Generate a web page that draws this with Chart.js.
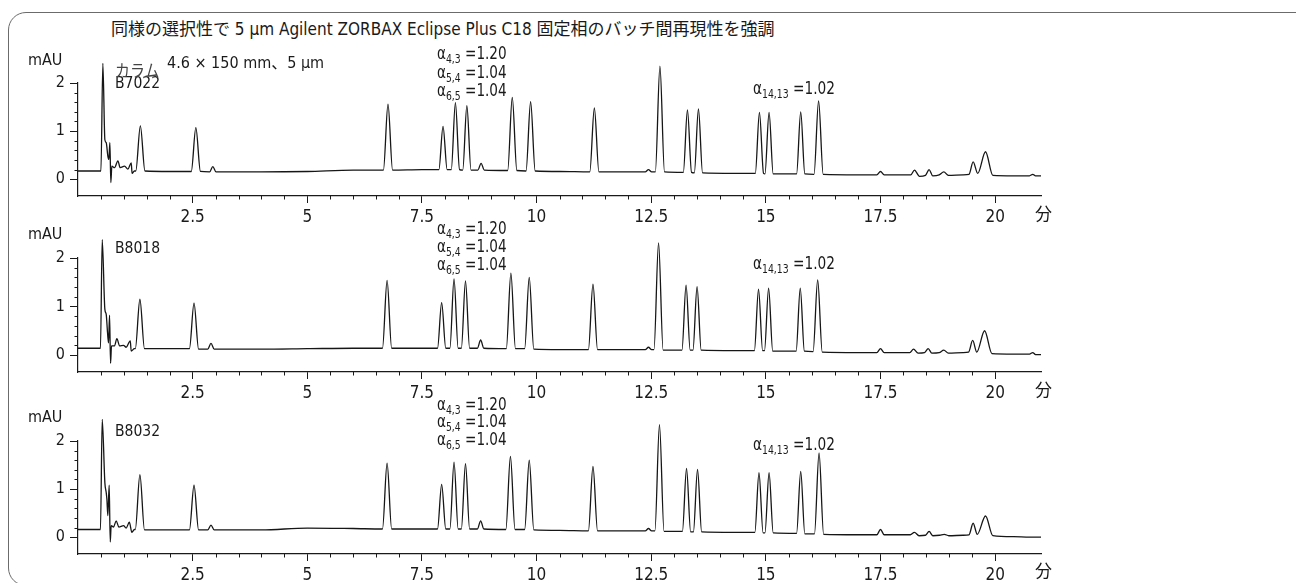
<!DOCTYPE html>
<html>
<head>
<meta charset="utf-8">
<script src="https://cdn.jsdelivr.net/npm/chart.js@4.4.1/dist/chart.umd.min.js"></script>
<style>
  html, body { margin: 0; padding: 0; background: #fff; }
  body {
    width: 1296px; height: 583px; position: relative; overflow: hidden;
    font-family: "Liberation Sans Narrow", "DejaVu Sans Condensed", "Noto Sans CJK JP", sans-serif;
    color: #1a1a1a;
  }
  .frame {
    position: absolute; left: 8px; top: 12px; width: 1400px; height: 574px;
    border: 1.5px solid #6b6b6b; border-radius: 18px; box-sizing: border-box;
  }
  .panel { position: absolute; left: 0; width: 1296px; }
  .panel canvas { display: block; }
  .t { position: absolute; white-space: nowrap; line-height: 1; transform-origin: 0 0; }
  sub { font-size: 0.68em; vertical-align: -0.3em; line-height: 0; }
</style>
</head>
<body>
<div class="frame"></div>

<div class="t" style="left:111px;top:21px;font-size:17px;">同様の選択性で 5 µm Agilent ZORBAX Eclipse Plus C18 固定相のバッチ間再現性を強調</div>

<div id="panels"></div>

<script>
// Retention time axis (min) and absorbance axis (mAU)
const minuteTicks = [2.5, 5, 7.5, 10, 12.5, 15, 17.5, 20];
const minuteMinorTicks = [0.5, 1, 1.5, 2, 3, 3.5, 4, 4.5, 5.5, 6, 6.5, 7, 8, 8.5, 9, 9.5,
  10.5, 11, 11.5, 12, 13, 13.5, 14, 14.5, 15.5, 16, 16.5, 17, 18, 18.5, 19, 19.5];
const mauTicks = [0, 1, 2];
const mauMinorTicks = [0.2, 0.4, 0.6, 0.8, 1.2, 1.4, 1.6, 1.8];

// Column batches
const batches = ['B7022', 'B8018', 'B8032'];

// Selectivity annotations
const alphaEarly = [['4,3', '1.20'], ['5,4', '1.04'], ['6,5', '1.04']];
const alphaLate = ['14,13', '1.02'];

// Chromatogram traces: [time (min), absorbance (mAU)]
const traceB7022 = [
  [0,0.17],[0.25,0.17],[0.5,0.17],[0.542,2.41],[0.586,0.82],[0.615,0.76],[0.651,0.48],[0.673,0.41],
  [0.695,0.76],[0.716,-0.07],[0.738,0.27],[0.797,0.24],[0.87,0.38],[0.92,0.24],[1.015,0.27],[1.088,0.21],
  [1.16,0.34],[1.18,0.12],[1.23,0.17],
  [1.26,0.17],[1.36,1.11],[1.46,0.17],
  [2.0,0.16],[2.47,0.16],[2.57,1.07],[2.67,0.16],
  [2.87,0.15],[2.94,0.26],[3.01,0.15],
  [4.0,0.15],[5.0,0.16],[6.0,0.19],[6.66,0.19],[6.76,1.56],[6.86,0.19],
  [7.5,0.20],[7.87,0.20],[7.96,1.10],[8.05,0.20],[8.14,0.20],[8.23,1.59],[8.32,0.20],[8.39,0.19],
  [8.48,1.53],[8.57,0.19],[8.72,0.19],[8.79,0.33],[8.86,0.19],
  [9.37,0.18],[9.47,1.70],[9.57,0.18],[9.77,0.17],[9.87,1.61],[9.97,0.17],
  [10.5,0.16],[11.16,0.15],[11.26,1.48],[11.36,0.15],
  [12.0,0.15],[12.37,0.15],[12.44,0.20],[12.51,0.15],[12.59,0.15],[12.69,2.35],[12.79,0.15],
  [13.2,0.14],[13.29,1.44],[13.38,0.14],[13.44,0.13],[13.53,1.46],[13.62,0.13],
  [14.3,0.12],[14.77,0.12],[14.86,1.39],[14.95,0.12],[14.98,0.11],[15.07,1.39],[15.16,0.11],
  [15.67,0.11],[15.76,1.40],[15.85,0.11],[16.05,0.10],[16.15,1.63],[16.25,0.10],
  [17.0,0.09],[17.42,0.09],[17.50,0.16],[17.58,0.09],
  [18.16,0.09],[18.24,0.19],[18.35,0.06],[18.48,0.08],[18.56,0.20],[18.64,0.07],[18.78,0.09],[18.88,0.15],[18.98,0.08],
  [19.3,0.09],[19.43,0.10],[19.52,0.36],[19.62,0.12],[19.79,0.57],[19.95,0.08],
  [20.4,0.07],[20.75,0.07],[20.82,0.10],[20.88,0.07],[21.0,0.07]
];

const traceB8018 = [
  [0,0.14],[0.25,0.14],[0.49,0.14],[0.528,2.38],[0.586,0.94],[0.615,0.84],[0.644,0.46],[0.666,0.25],
  [0.688,0.82],[0.71,-0.17],[0.731,0.19],[0.797,0.19],[0.848,0.34],[0.906,0.19],[0.993,0.20],[1.05,0.16],
  [1.14,0.29],[1.16,0.08],[1.23,0.13],
  [1.25,0.13],[1.35,1.15],[1.45,0.13],
  [2.0,0.13],[2.43,0.13],[2.53,1.07],[2.63,0.12],
  [2.83,0.12],[2.90,0.24],[2.97,0.12],
  [4.0,0.12],[5.0,0.13],[6.0,0.14],[6.64,0.14],[6.74,1.54],[6.84,0.14],
  [7.5,0.14],[7.84,0.14],[7.93,1.08],[8.02,0.14],[8.11,0.14],[8.20,1.57],[8.29,0.14],[8.36,0.14],
  [8.45,1.53],[8.54,0.14],[8.71,0.14],[8.78,0.31],[8.85,0.14],
  [9.34,0.13],[9.44,1.69],[9.54,0.13],[9.74,0.13],[9.84,1.60],[9.94,0.12],
  [10.5,0.11],[11.13,0.11],[11.23,1.46],[11.33,0.11],
  [12.0,0.11],[12.37,0.11],[12.44,0.16],[12.51,0.11],[12.56,0.11],[12.66,2.31],[12.76,0.10],
  [13.17,0.10],[13.26,1.44],[13.35,0.10],[13.41,0.10],[13.50,1.41],[13.59,0.10],
  [14.3,0.09],[14.75,0.09],[14.84,1.36],[14.93,0.09],[14.97,0.09],[15.06,1.38],[15.15,0.08],
  [15.66,0.08],[15.75,1.38],[15.84,0.08],[16.03,0.07],[16.13,1.55],[16.23,0.06],
  [17.0,0.05],[17.42,0.05],[17.50,0.13],[17.58,0.05],
  [18.14,0.05],[18.22,0.12],[18.32,0.04],[18.46,0.05],[18.54,0.13],[18.62,0.04],[18.78,0.05],[18.88,0.10],[18.98,0.04],
  [19.3,0.05],[19.42,0.06],[19.51,0.30],[19.60,0.06],[19.77,0.50],[19.93,0.03],
  [20.4,0.02],[20.75,0.02],[20.82,0.05],[20.88,0.01],[21.0,0.01]
];

const traceB8032 = [
  [0,0.16],[0.25,0.16],[0.49,0.16],[0.528,2.45],[0.586,1.13],[0.615,0.93],[0.63,0.79],[0.651,0.45],
  [0.68,1.08],[0.703,-0.10],[0.724,0.24],[0.775,0.21],[0.833,0.34],[0.89,0.21],[0.993,0.24],[1.05,0.19],
  [1.12,0.31],[1.175,0.10],[1.23,0.16],
  [1.25,0.16],[1.35,1.30],[1.45,0.15],
  [2.0,0.15],[2.43,0.15],[2.53,1.08],[2.63,0.15],
  [2.83,0.15],[2.90,0.25],[2.97,0.15],
  [4.0,0.15],[5.0,0.19],[6.0,0.18],[6.64,0.17],[6.74,1.54],[6.84,0.17],
  [7.5,0.17],[7.84,0.17],[7.93,1.10],[8.02,0.17],[8.11,0.17],[8.20,1.56],[8.29,0.17],[8.36,0.17],
  [8.45,1.53],[8.54,0.17],[8.71,0.17],[8.78,0.34],[8.85,0.17],
  [9.33,0.16],[9.43,1.68],[9.53,0.16],[9.74,0.16],[9.84,1.60],[9.94,0.15],
  [10.5,0.14],[11.13,0.13],[11.23,1.47],[11.33,0.13],
  [12.0,0.13],[12.37,0.13],[12.44,0.18],[12.51,0.13],[12.58,0.13],[12.68,2.34],[12.78,0.12],
  [13.18,0.12],[13.27,1.43],[13.36,0.11],[13.42,0.11],[13.51,1.41],[13.60,0.11],
  [14.3,0.10],[14.76,0.10],[14.85,1.34],[14.94,0.09],[14.98,0.09],[15.07,1.34],[15.16,0.09],
  [15.67,0.08],[15.76,1.37],[15.85,0.07],[16.06,0.07],[16.16,1.75],[16.26,0.06],
  [17.0,0.05],[17.42,0.05],[17.50,0.16],[17.58,0.05],
  [18.15,0.05],[18.24,0.10],[18.34,0.03],[18.48,0.04],[18.56,0.12],[18.64,0.03],[18.79,0.04],[18.89,0.06],[18.99,0.03],
  [19.3,0.04],[19.43,0.05],[19.52,0.29],[19.61,0.06],[19.79,0.44],[19.95,0.03],
  [20.4,0.01],[20.75,0.00],[21.0,0.00]
];

const traces = [traceB7022, traceB8018, traceB8032];

// Panel placement on the page
const layout = [
  { areaTop: 83,  areaBottom: 196, mau: 52,    name: 76,    alpha: [43.5, 62.5, 81],     alpha2: 78.5,  unit: 206 },
  { areaTop: 258, areaBottom: 372, mau: 225.5, name: 240.5, alpha: [218.5, 237, 254.5],  alpha2: 253.5, unit: 382 },
  { areaTop: 441, areaBottom: 554, mau: 409,   name: 424,   alpha: [394.5, 412, 430],    alpha2: 435,   unit: 563 }
];

const PAD_TOP = 40, X_AXIS_H = 32, Y_AXIS_W = 78, X_RIGHT = 1041;
const axisFont = '"Liberation Sans Narrow", "DejaVu Sans Condensed", sans-serif';
const inkColor = '#1a1a1a';

const minorTickPlugin = {
  id: 'minorTicks',
  afterDraw(chart) {
    const { ctx, chartArea, scales: { x, y } } = chart;
    ctx.save();
    ctx.strokeStyle = inkColor;
    ctx.lineWidth = 1;
    ctx.beginPath();
    minuteMinorTicks.forEach(v => {
      const px = Math.round(x.getPixelForValue(v)) + 0.5;
      ctx.moveTo(px, chartArea.bottom);
      ctx.lineTo(px, chartArea.bottom + 3.5);
    });
    mauMinorTicks.forEach(v => {
      const py = Math.round(y.getPixelForValue(v)) + 0.5;
      ctx.moveTo(chartArea.left, py);
      ctx.lineTo(chartArea.left - 3.5, py);
    });
    ctx.stroke();
    ctx.restore();
  }
};

const host = document.getElementById('panels');

function addText(html, left, top, size, extra) {
  const d = document.createElement('div');
  d.className = 't';
  d.style.left = left + 'px';
  d.style.top = top + 'px';
  d.style.fontSize = size + 'px';
  if (extra) Object.assign(d.style, extra);
  d.innerHTML = html;
  document.body.appendChild(d);
  return d;
}

layout.forEach((p, i) => {
  const areaH = p.areaBottom - p.areaTop;
  const h = PAD_TOP + areaH + X_AXIS_H;
  const wrap = document.createElement('div');
  wrap.className = 'panel';
  wrap.style.top = (p.areaTop - PAD_TOP) + 'px';
  wrap.style.height = h + 'px';
  const cv = document.createElement('canvas');
  cv.width = 1296;
  cv.height = h;
  wrap.appendChild(cv);
  host.appendChild(wrap);

  new Chart(cv, {
    type: 'line',
    data: {
      datasets: [{
        label: batches[i],
        data: traces[i].map(([t, v]) => ({ x: t, y: v })),
        borderColor: '#161616',
        borderWidth: 1.3,
        pointRadius: 0,
        fill: false,
        cubicInterpolationMode: 'monotone',
        capBezierPoints: false,
        clip: false
      }]
    },
    options: {
      responsive: false,
      animation: false,
      events: [],
      layout: { padding: { top: PAD_TOP, left: 0, right: 1296 - X_RIGHT, bottom: 0 } },
      plugins: { legend: { display: false }, tooltip: { enabled: false } },
      scales: {
        x: {
          type: 'linear', min: 0, max: 21,
          afterBuildTicks: s => { s.ticks = minuteTicks.map(v => ({ value: v })); },
          afterFit: s => { s.height = X_AXIS_H; },
          ticks: {
            autoSkip: false, maxRotation: 0, padding: 4, color: inkColor,
            font: { family: axisFont, size: 17 },
            callback: v => String(v)
          },
          grid: { drawOnChartArea: false, tickLength: 7, color: inkColor, tickWidth: 1 },
          border: { display: true, color: inkColor, width: 1.2 }
        },
        y: {
          type: 'linear', min: -0.35, max: 2,
          afterBuildTicks: s => { s.ticks = mauTicks.map(v => ({ value: v })); },
          afterFit: s => { s.width = Y_AXIS_W; },
          ticks: {
            padding: 5, color: inkColor,
            font: { family: axisFont, size: 16 },
            callback: v => String(v)
          },
          grid: { drawOnChartArea: false, tickLength: 8, color: inkColor, tickWidth: 1 },
          border: { display: true, color: inkColor, width: 1.2 }
        }
      }
    },
    plugins: [minorTickPlugin]
  });

  // Axis units, batch label and selectivity notes
  addText('mAU', 28, p.mau, 16);
  addText(batches[i], 115, p.name, 15.5);
  addText('分', 1035, p.unit, 17);
  alphaEarly.forEach(([sub, val], k) => {
    addText('α<sub>' + sub + '</sub> =' + val, 437, p.alpha[k], 18, { transform: 'scaleX(0.84)' });
  });
  addText('α<sub>' + alphaLate[0] + '</sub> =' + alphaLate[1], 753, p.alpha2, 18, { transform: 'scaleX(0.845)' });
});

// Column description on the first panel
addText('カラム', 115, 63, 17, { color: '#444', transform: 'scaleX(0.88)' });
addText('4.6 × 150 mm、5 µm', 167, 55, 16);
</script>
</body>
</html>
